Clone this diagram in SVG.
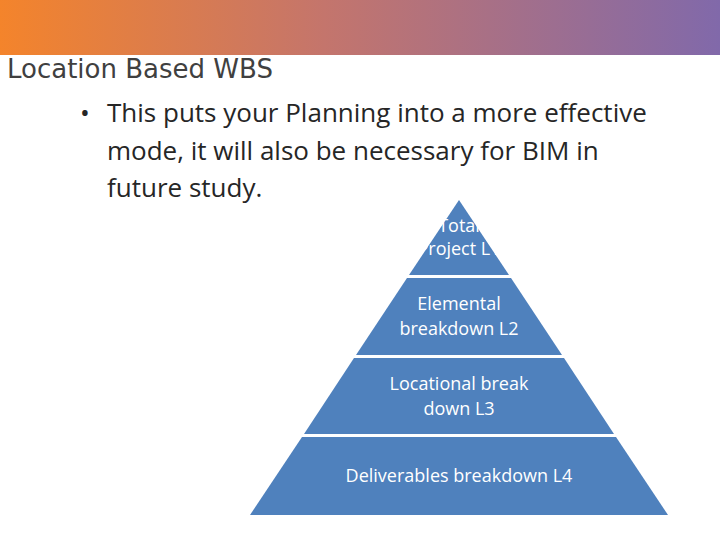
<svg xmlns="http://www.w3.org/2000/svg" width="720" height="540" viewBox="0 0 720 540">
<defs><linearGradient id="g" x1="0" x2="1" y1="0" y2="0"><stop offset="0" stop-color="#f4842b"/><stop offset="0.45" stop-color="#c4756c"/><stop offset="1" stop-color="#8169aa"/></linearGradient></defs>
<style>.t{font-family:"Open Sans","Liberation Sans",sans-serif;fill:#fff;font-size:18px;text-anchor:middle}.b{font-family:"Open Sans","Liberation Sans",sans-serif;fill:#262626;font-size:26px}.p{fill:#4f81bd}</style>
<rect width="720" height="540" fill="#fff"/>
<rect width="720" height="55" fill="url(#g)"/>
<text x="7" y="78" font-family="DejaVu Sans,sans-serif" font-size="26" fill="#404040">Location Based WBS</text>
<text class="b" x="80" y="122">•</text>
<text class="b" x="107" y="122">This puts your Planning into a more effective</text>
<text class="b" x="107" y="160">mode, it will also be necessary for BIM in</text>
<text class="b" x="107" y="197">future study.</text>
<g id="l1"><polygon class="p" points="459,200 509,275 409,275"/><text class="t" x="459" y="232">Total</text><text class="t" x="459" y="255">Project  L1</text></g>
<g id="l2"><polygon class="p" points="407,278 511,278 562,355 356,355"/><text class="t" x="459" y="310">Elemental</text><text class="t" x="459" y="335">breakdown L2</text></g>
<g id="l3"><polygon class="p" points="354,358 564,358 614,434 304,434"/><text class="t" x="459" y="390">Locational break</text><text class="t" x="459" y="415">down L3</text></g>
<g id="l4"><polygon class="p" points="302,437 616,437 668,515 250,515"/><text class="t" x="459" y="482">Deliverables breakdown L4</text></g>
<g id="connectors"/>
</svg>
